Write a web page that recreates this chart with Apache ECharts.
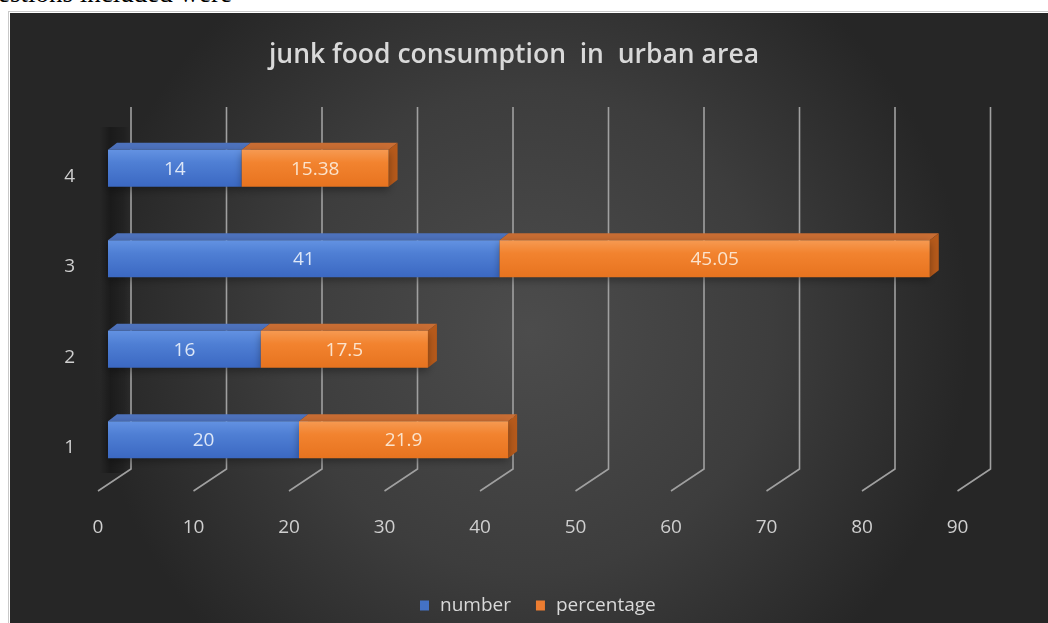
<!DOCTYPE html>
<html>
<head>
<meta charset="utf-8">
<script src="https://cdn.jsdelivr.net/npm/echarts@6/dist/echarts.min.js"></script>
<style>
  html, body { margin:0; padding:0; background:#ffffff; width:1048px; height:623px; overflow:hidden; }
  #pagetext { position:absolute; left:-35px; top:-20px; font:27px "Liberation Serif", "DejaVu Serif", serif; line-height:27px; color:#000; white-space:nowrap; }
  #box { position:absolute; left:8px; top:11px; width:1040px; height:612px; border-left:1px solid #c9c9c9; border-top:1px solid #c9c9c9; box-sizing:border-box; }
  #chart { position:absolute; left:1px; top:1px; width:1039px; height:611px; }
</style>
</head>
<body>
<div id="pagetext">Questions included were</div>
<div id="box"><div id="chart"></div></div>
<script>
const titleText = 'junk food consumption  in  urban area';
const categories = ['1', '2', '3', '4'];
const numberValues = [20, 16, 41, 14];
const percentageValues = [21.9, 17.5, 45.05, 15.38];
const xTicks = [0, 10, 20, 30, 40, 50, 60, 70, 80, 90];
const seriesNames = ['number', 'percentage'];

const chart = echarts.init(document.getElementById('chart'), null, { renderer: 'canvas' });

const numberData = numberValues.map((v, i) => [0, v, i, v]);
const percentageData = percentageValues.map((v, i) => [numberValues[i], numberValues[i] + v, i, v]);
const tickData = xTicks.map(v => [v, 0]);

const DX = 9, DY = -7;

function makeBarRender(style) {
  return function (params, api) {
    const s = api.value(0), e = api.value(1), ci = api.value(2), lab = api.value(3);
    const a = api.coord([s, ci]);
    const b = api.coord([e, ci]);
    const band = api.size([0, 1])[1];
    const h = band * 0.41;
    const yT = a[1] - h / 2, yB = a[1] + h / 2;
    const x0 = a[0], x1 = b[0];
    return {
      type: 'group',
      children: [
        { type: 'polygon', shape: { points: [[x0, yT], [x1, yT], [x1 + DX, yT + DY], [x0 + DX, yT + DY]] },
          style: { fill: style.top } },
        { type: 'polygon', shape: { points: [[x1, yT], [x1 + DX, yT + DY], [x1 + DX, yB + DY], [x1, yB]] },
          style: { fill: style.side } },
        { type: 'rect', shape: { x: x0, y: yT, width: x1 - x0, height: h },
          style: { fill: { type: 'linear', x: 0, y: 0, x2: 0, y2: 1, colorStops: style.front },
                   shadowBlur: 8, shadowColor: 'rgba(0,0,0,0.35)', shadowOffsetY: 3 } },
        { type: 'text', style: { text: String(lab), x: (x0 + x1) / 2, y: (yT + yB) / 2 + 1,
            align: 'center', verticalAlign: 'middle', fill: style.label,
            font: '19px "Open Sans", sans-serif' } }
      ]
    };
  };
}

const blueStyle = {
  top: '#4d72bd', side: '#3559a0', label: '#dde7f7',
  front: [{ offset: 0, color: '#6392e2' }, { offset: 0.35, color: '#4f7fd4' }, { offset: 1, color: '#3b68c2' }]
};
const orangeStyle = {
  top: '#c96d33', side: '#b65a1b', label: '#fbe3cc',
  front: [{ offset: 0, color: '#f69a52' }, { offset: 0.35, color: '#f2832f' }, { offset: 1, color: '#e7731f' }]
};

const option = {
  backgroundColor: {
    type: 'radial', x: 0.5, y: 0.52, r: 0.72,
    colorStops: [
      { offset: 0, color: '#4c4c4c' },
      { offset: 0.55, color: '#3d3d3d' },
      { offset: 1, color: '#262626' }
    ]
  },
  animation: false,
  title: {
    text: titleText,
    left: 499, top: 24, textAlign: 'center',
    textStyle: { color: '#d9d9d9', fontFamily: '"Open Sans", sans-serif', fontWeight: 600, fontSize: 26.5 }
  },
  legend: {
    data: seriesNames,
    left: 405, top: 578,
    icon: 'rect', itemWidth: 9, itemHeight: 10, itemGap: 25,
    textStyle: { color: '#d9d9d9', fontFamily: '"Open Sans", sans-serif', fontSize: 19, padding: [0, 0, 0, 6] }
  },
  grid: { left: 98, right: 81.5, top: 110, bottom: 139, containLabel: false },
  xAxis: {
    type: 'value', min: 0, max: 90, interval: 10,
    axisLine: { show: false }, axisTick: { show: false }, splitLine: { show: false },
    axisLabel: { color: '#cfcfcf', fontFamily: '"Open Sans", sans-serif', fontSize: 19, margin: 33, padding: [0, 20, 0, 0] }
  },
  yAxis: {
    type: 'category', data: categories,
    axisLine: { show: false }, axisTick: { show: false }, splitLine: { show: false },
    axisLabel: { color: '#cfcfcf', fontFamily: '"Open Sans", sans-serif', fontSize: 19, margin: 33,
                 verticalAlign: 'top', lineHeight: 16 }
  },
  series: [
    {
      type: 'custom', name: 'wall', silent: true, z: 1,
      data: [[0, 0]],
      encode: { x: 0, y: 1 },
      renderItem: function (params, api) {
        const cs = params.coordSys;
        const x0 = api.coord([0, 0])[0];
        return {
          type: 'rect',
          shape: { x: x0 - 8, y: cs.y + 4, width: 30, height: cs.height - 16 },
          style: { fill: { type: 'linear', x: 0, y: 0, x2: 1, y2: 0, colorStops: [
            { offset: 0, color: 'rgba(0,0,0,0)' },
            { offset: 0.35, color: 'rgba(0,0,0,0.32)' },
            { offset: 0.8, color: 'rgba(0,0,0,0.15)' },
            { offset: 1, color: 'rgba(0,0,0,0)' }] } }
        };
      }
    },
    {
      type: 'custom', name: 'grid3d', silent: true, z: 2,
      data: tickData,
      encode: { x: 0, y: 1 },
      renderItem: function (params, api) {
        const cs = params.coordSys;
        const xf = api.coord([api.value(0), 0])[0];
        const top = cs.y - 16, bot = cs.y + cs.height - 16, foot = cs.y + cs.height + 6;
        return {
          type: 'polyline',
          shape: { points: [[xf + 23, top], [xf + 23, bot], [xf - 10, foot]] },
          style: { stroke: '#a0a0a0', lineWidth: 1.6, fill: null }
        };
      }
    },
    {
      type: 'custom', name: seriesNames[0], z: 3,
      itemStyle: { color: '#4472c4' },
      data: numberData,
      encode: { x: [0, 1], y: 2 },
      renderItem: makeBarRender(blueStyle)
    },
    {
      type: 'custom', name: seriesNames[1], z: 4,
      itemStyle: { color: '#ed7d31' },
      data: percentageData,
      encode: { x: [0, 1], y: 2 },
      renderItem: makeBarRender(orangeStyle)
    }
  ]
};
chart.setOption(option);
</script>
</body>
</html>
